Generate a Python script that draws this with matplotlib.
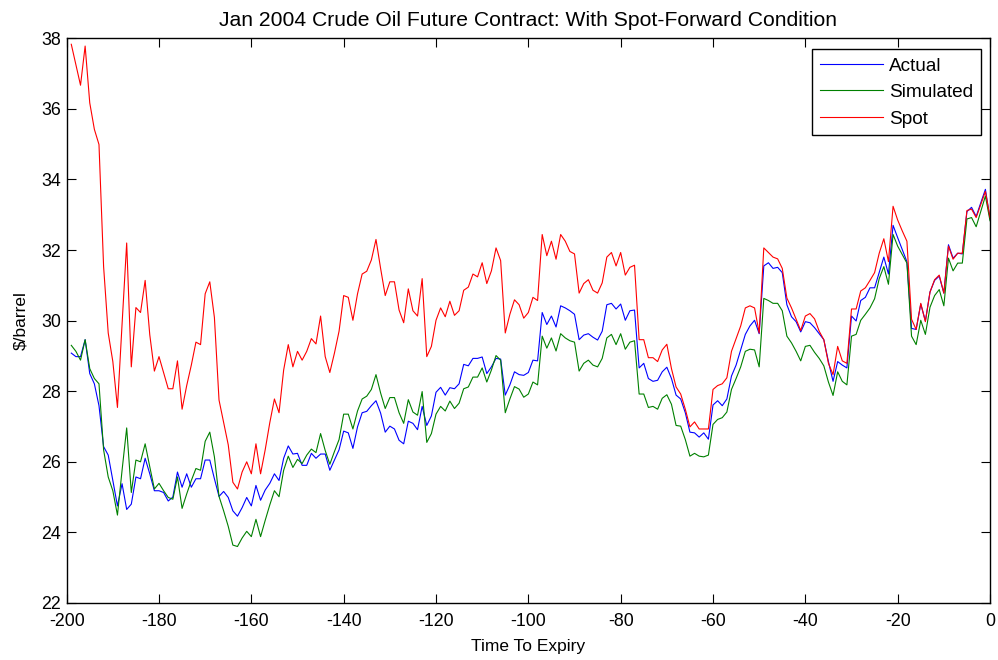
import numpy as np
import matplotlib
matplotlib.use("Agg")
import matplotlib.pyplot as plt

plt.rcParams['font.family'] = ['Liberation Sans', 'DejaVu Sans']
plt.rcParams['axes.unicode_minus'] = False

# Days to contract expiry
days = np.arange(-199, 1)

# Futures price observed in the market ($/barrel)
actual = [
    29.08, 28.98, 28.98, 29.46, 28.50, 28.21, 27.59, 26.43, 26.19, 25.47,
    24.75, 25.38, 24.65, 24.80, 25.57, 25.52, 26.10, 25.66, 25.18, 25.18,
    25.13, 24.89, 25.00, 25.71, 25.28, 25.66, 25.28, 25.52, 25.52, 26.05,
    26.05, 25.52, 25.02, 25.16, 24.99, 24.61, 24.46, 24.70, 24.99, 24.75,
    25.33, 24.91, 25.20, 25.39, 25.66, 25.47, 26.10, 26.45, 26.22, 26.24,
    25.90, 25.90, 26.24, 26.10, 26.22, 26.22, 25.76, 26.05, 26.34, 26.87,
    26.82, 26.38, 26.99, 27.39, 27.43, 27.59, 27.73, 27.38, 26.84, 27.01,
    26.93, 26.61, 26.51, 27.15, 27.09, 26.91, 27.57, 27.03, 27.30, 27.97,
    28.11, 27.89, 28.10, 28.07, 28.21, 28.76, 28.72, 28.93, 28.93, 28.97,
    28.50, 28.69, 28.93, 28.91, 27.89, 28.18, 28.55, 28.47, 28.45, 28.53,
    28.88, 28.86, 30.23, 29.89, 30.13, 29.82, 30.42, 30.36, 30.28, 30.18,
    29.46, 29.59, 29.63, 29.53, 29.45, 29.70, 30.45, 30.49, 30.33, 30.47,
    30.01, 30.28, 30.30, 28.66, 28.79, 28.36, 28.28, 28.31, 28.55, 28.68,
    28.36, 27.89, 27.78, 27.39, 26.84, 26.82, 26.70, 26.82, 26.64, 27.61,
    27.73, 27.59, 27.78, 28.43, 28.74, 29.17, 29.61, 29.85, 30.01, 29.63,
    31.55, 31.64, 31.48, 31.51, 31.36, 30.45, 30.11, 29.97, 29.68, 29.97,
    29.94, 29.80, 29.63, 29.46, 28.84, 28.28, 28.84, 28.74, 28.66, 30.13,
    29.99, 30.57, 30.66, 30.93, 30.93, 31.36, 31.80, 31.32, 32.70, 32.35,
    32.01, 31.67, 29.78, 29.75, 30.47, 29.99, 30.81, 31.14, 31.26, 30.78,
    32.15, 31.77, 31.91, 31.89, 33.09, 33.21, 32.95, 33.34, 33.72, 32.88,
]

# Futures price from the model under the spot-forward condition
simulated = [
    29.30, 29.13, 28.88, 29.46, 28.64, 28.36, 28.21, 26.34, 25.57, 25.18,
    24.49, 25.76, 26.96, 25.13, 26.05, 26.00, 26.51, 25.86, 25.23, 25.39,
    25.18, 24.99, 24.94, 25.57, 24.68, 25.09, 25.47, 25.81, 25.76, 26.58,
    26.84, 26.14, 25.02, 24.61, 24.17, 23.64, 23.60, 23.84, 24.03, 23.88,
    24.37, 23.88, 24.34, 24.78, 25.18, 25.01, 25.76, 26.16, 25.84, 26.07,
    25.95, 26.19, 26.36, 26.26, 26.80, 26.32, 25.93, 26.29, 26.63, 27.35,
    27.35, 26.93, 27.44, 27.78, 27.86, 28.05, 28.47, 27.95, 27.51, 27.82,
    27.82, 27.39, 27.09, 27.76, 27.41, 27.32, 27.99, 26.55, 26.80, 27.35,
    27.57, 27.44, 27.72, 27.51, 27.66, 28.07, 28.12, 28.40, 28.40, 28.66,
    28.26, 28.60, 29.01, 28.88, 27.39, 27.78, 28.13, 28.06, 27.83, 27.92,
    28.26, 28.18, 29.56, 29.22, 29.51, 29.14, 29.63, 29.51, 29.43, 29.39,
    28.57, 28.79, 28.88, 28.74, 28.69, 28.93, 29.51, 29.61, 29.32, 29.63,
    29.19, 29.39, 29.43, 27.92, 27.92, 27.54, 27.57, 27.49, 27.80, 27.90,
    27.63, 27.03, 27.01, 26.63, 26.16, 26.24, 26.16, 26.14, 26.19, 27.06,
    27.20, 27.25, 27.41, 28.05, 28.36, 28.69, 29.13, 29.19, 29.17, 28.69,
    30.63, 30.57, 30.49, 30.49, 30.28, 29.56, 29.37, 29.13, 28.86, 29.27,
    29.30, 29.10, 28.93, 28.72, 28.26, 27.88, 28.55, 28.28, 28.18, 29.56,
    29.61, 30.01, 30.18, 30.36, 30.62, 31.19, 31.53, 31.03, 32.44, 32.11,
    31.87, 31.63, 29.56, 29.32, 30.01, 29.61, 30.38, 30.71, 30.88, 30.42,
    31.77, 31.41, 31.63, 31.63, 32.88, 32.92, 32.66, 33.10, 33.53, 32.83,
]

# Crude oil spot price ($/barrel)
spot = [
    37.83, 37.25, 36.67, 37.78, 36.17, 35.42, 34.99, 31.53, 29.65, 28.84,
    27.54, 29.90, 32.20, 28.69, 30.37, 30.23, 31.14, 29.60, 28.57, 28.98,
    28.53, 28.07, 28.07, 28.86, 27.49, 28.16, 28.74, 29.39, 29.32, 30.76,
    31.10, 30.09, 27.75, 27.11, 26.48, 25.42, 25.23, 25.71, 26.00, 25.66,
    26.51, 25.66, 26.34, 27.11, 27.78, 27.39, 28.60, 29.32, 28.69, 29.13,
    28.88, 29.13, 29.49, 29.34, 30.13, 28.98, 28.53, 29.08, 29.70, 30.71,
    30.66, 30.01, 30.76, 31.32, 31.40, 31.72, 32.30, 31.48, 30.71, 31.10,
    31.10, 30.30, 29.94, 30.90, 30.28, 30.13, 31.19, 28.98, 29.27, 30.01,
    30.36, 30.11, 30.55, 30.15, 30.28, 30.86, 30.95, 31.32, 31.24, 31.64,
    31.05, 31.41, 32.06, 31.70, 29.65, 30.18, 30.59, 30.45, 30.07, 30.23,
    30.66, 30.57, 32.44, 31.84, 32.25, 31.74, 32.44, 32.25, 31.96, 31.89,
    30.78, 31.05, 31.16, 30.86, 30.78, 31.07, 31.80, 31.93, 31.55, 31.93,
    31.29, 31.51, 31.57, 29.46, 29.46, 28.95, 28.95, 28.84, 29.17, 29.33,
    28.64, 28.12, 27.92, 27.49, 26.99, 27.13, 26.93, 26.93, 26.93, 28.05,
    28.16, 28.21, 28.38, 29.13, 29.49, 29.85, 30.36, 30.42, 30.36, 29.65,
    32.06, 31.93, 31.80, 31.75, 31.48, 30.64, 30.36, 30.04, 29.72, 30.13,
    30.20, 30.05, 29.70, 29.46, 28.79, 28.47, 29.27, 28.86, 28.79, 30.33,
    30.33, 30.84, 30.93, 31.14, 31.36, 31.91, 32.32, 31.67, 33.24, 32.85,
    32.54, 32.25, 30.04, 29.75, 30.49, 29.97, 30.81, 31.16, 31.29, 30.78,
    32.11, 31.74, 31.91, 31.91, 33.12, 33.16, 32.92, 33.29, 33.66, 32.92,
]

x_ticks = list(range(-200, 1, 20))
y_ticks = list(range(22, 39, 2))

fig = plt.figure(figsize=(9.98, 6.6), dpi=100)
ax = fig.add_axes([0.0668, 0.0864, 0.9252, 0.8556])

ax.plot(days, actual, color='#0000ff', lw=0.8, label='Actual')
ax.plot(days, simulated, color='#008000', lw=0.8, label='Simulated')
ax.plot(days, spot, color='#ff0000', lw=0.8, label='Spot')

ax.set_xlim(-200, 0)
ax.set_ylim(22, 38)
ax.set_xticks(x_ticks)
ax.set_yticks(y_ticks)
ax.tick_params(direction='in', length=6.5, width=0.8, top=True, right=True,
               labelsize=12.8)
ax.tick_params(axis='x', pad=7)
ax.tick_params(axis='y', pad=4)
for s in ax.spines.values():
    s.set_linewidth(1.0)

ax.set_title('Jan 2004 Crude Oil Future Contract: With Spot-Forward Condition',
             fontsize=15.2, pad=9)
ax.set_xlabel('Time To Expiry', fontsize=12.5, labelpad=7)
ax.set_ylabel('$/barrel', fontsize=12.5, labelpad=9)

leg = ax.legend(loc='upper right', bbox_to_anchor=(0.990, 0.9805),
                borderaxespad=0, fancybox=False, frameon=True,
                edgecolor='black', fontsize=13.7, handlelength=3.3,
                handletextpad=0.32, labelspacing=0.48, borderpad=0.42)
leg.get_frame().set_linewidth(1.0)
leg.get_frame().set_alpha(1)

fig.savefig('out.png', dpi=100)
